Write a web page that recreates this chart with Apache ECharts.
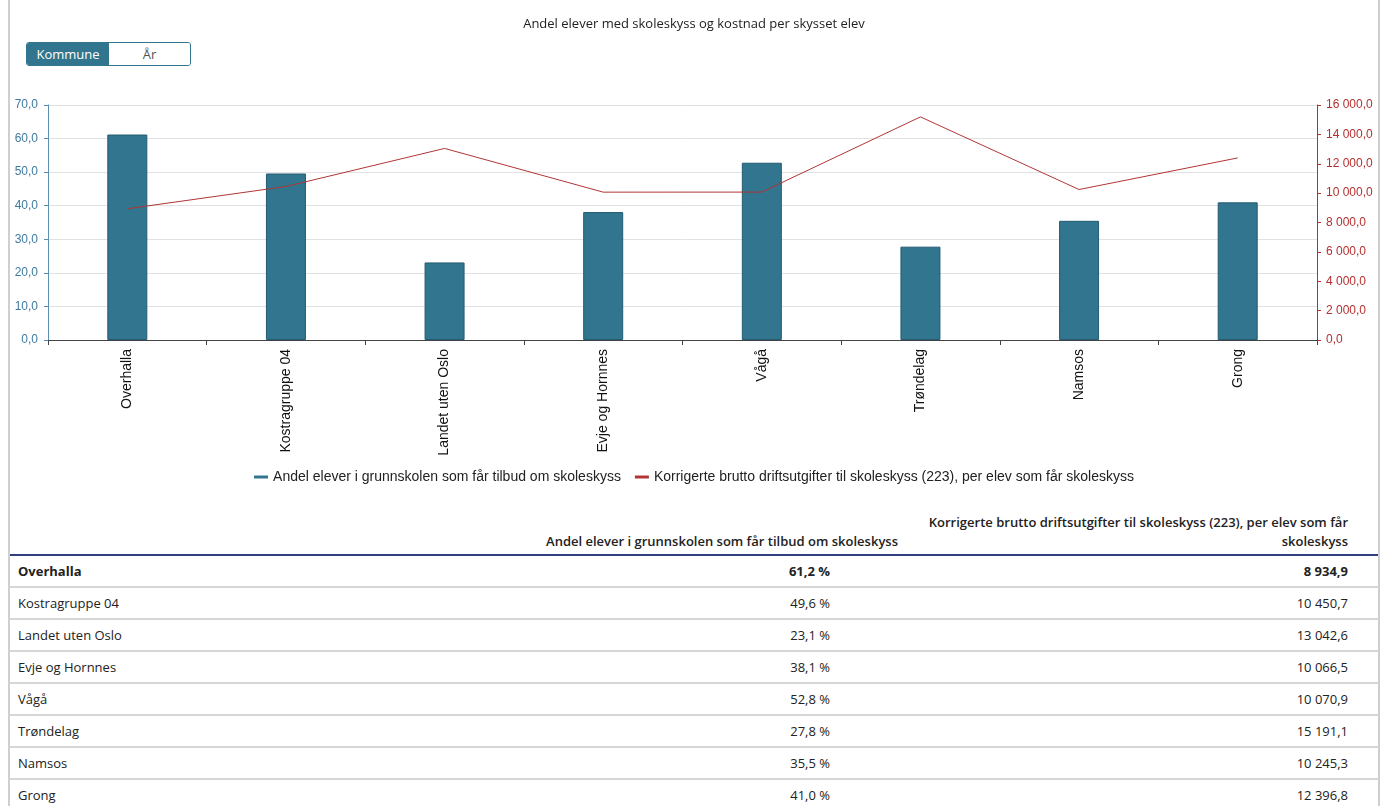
<!DOCTYPE html>
<html>
<head>
<meta charset="utf-8">
<script src="https://cdn.jsdelivr.net/npm/echarts@6/dist/echarts.min.js"></script>
<style>
  html, body { margin: 0; padding: 0; background: #fff; width: 1386px; height: 806px; overflow: hidden; }
  #frame { position: absolute; left: 8px; top: 0; width: 1368px; height: 806px; border-left: 2px solid #cfcfcf; border-right: 2px solid #cfcfcf; }
  #chart { position: absolute; left: 10px; top: 0; width: 1368px; height: 500px; }
  #toggle { position: absolute; left: 26px; top: 42px; width: 163px; height: 22px; border: 1px solid #31758f; border-radius: 3px; overflow: hidden; font-family: "Open Sans", sans-serif; font-size: 13px; display: flex; }
  #toggle div { height: 22px; line-height: 22px; text-align: center; }
  #toggle .on { width: 82px; background: #31758f; color: #fff; }
  #toggle .off { flex: 1; background: #fff; color: #555; }
  #tbl { position: absolute; left: 10px; top: 508px; width: 1368px; table-layout: fixed; border-collapse: collapse; font-family: "Open Sans", sans-serif; font-size: 13px; color: #222; }
  #tbl th { font-weight: 600; text-align: right; vertical-align: bottom; line-height: 19px; padding: 5px 10px 3px 10px; border-bottom: 2px solid #2f3f7f; }
  #tbl td { height: 30px; padding: 0 10px 0 8px; border-bottom: 2px solid #d6d6d6; line-height: 30px; }
  #tbl td.num2 { text-align: right; padding-right: 78px; }
  #tbl td.num3 { text-align: right; padding-right: 30px; }
  #tbl th.c3 { padding-right: 30px; }
  #tbl tr.bold td { font-weight: bold; }
</style>
</head>
<body>
<div id="frame"></div>
<div id="chart"></div>
<div id="toggle"><div class="on">Kommune</div><div class="off">År</div></div>
<table id="tbl"><colgroup><col style="width:350px"><col style="width:548px"><col style="width:470px"></colgroup><tbody id="tb"></tbody></table>
<script>
const categories = ["Overhalla", "Kostragruppe 04", "Landet uten Oslo", "Evje og Hornnes", "Vågå", "Trøndelag", "Namsos", "Grong"];
const andelValues = [61.2, 49.6, 23.1, 38.1, 52.8, 27.8, 35.5, 41.0];
const kostnadValues = [8934.9, 10450.7, 13042.6, 10066.5, 10070.9, 15191.1, 10245.3, 12396.8];
const seriesNames = ["Andel elever i grunnskolen som får tilbud om skoleskyss", "Korrigerte brutto driftsutgifter til skoleskyss (223), per elev som får skoleskyss"];
const chartTitle = "Andel elever med skoleskyss og kostnad per skysset elev";

function fmt(v) {
  const parts = v.toFixed(1).split(".");
  const intPart = parts[0].replace(/\B(?=(\d{3})+(?!\d))/g, " ");
  return intPart + "," + parts[1];
}

const chart = echarts.init(document.getElementById("chart"));
chart.setOption({
  animation: false,
  title: { text: chartTitle, left: "center", top: 13, textStyle: { fontFamily: "Open Sans", fontSize: 13, fontWeight: "normal", color: "#222" } },
  legend: {
    top: 465, left: "center", itemWidth: 14, itemHeight: 3, itemGap: 14,
    itemStyle: { borderWidth: 0 },
    textStyle: { fontFamily: "Arial, Liberation Sans", fontSize: 14, color: "#222" },
    data: [{ name: seriesNames[0], icon: "rect" }, { name: seriesNames[1], icon: "rect" }]
  },
  grid: { left: 38, right: 61, top: 105, height: 235 },
  xAxis: {
    type: "category", data: categories,
    axisLine: { lineStyle: { color: "#444" } },
    axisTick: { show: true, length: 5, lineStyle: { color: "#444" } },
    axisLabel: { rotate: 90, fontFamily: "Arial, Liberation Sans", fontSize: 14, color: "#111", margin: 9, padding: [0, 0, 0, 0] }
  },
  yAxis: [
    {
      type: "value", min: 0, max: 70, interval: 10, position: "left",
      axisLine: { show: true, lineStyle: { color: "#5a8fb2" } },
      axisTick: { show: true, length: 4, lineStyle: { color: "#5a8fb2" } },
      axisLabel: { formatter: fmt, fontFamily: "Arial, Liberation Sans", fontSize: 12, color: "#3f7aa0", margin: 10 },
      splitLine: { lineStyle: { color: "#e2e2e2" } }
    },
    {
      type: "value", min: 0, max: 16000, interval: 2000, position: "right",
      axisLine: { show: true, lineStyle: { color: "#b52f2f" } },
      axisTick: { show: true, length: 4, lineStyle: { color: "#b52f2f" } },
      axisLabel: { formatter: fmt, fontFamily: "Arial, Liberation Sans", fontSize: 12, color: "#b52f2f", margin: 9 },
      splitLine: { show: false }
    }
  ],
  series: [
    {
      name: seriesNames[0], type: "bar", yAxisIndex: 0, data: andelValues, barWidth: 40,
      itemStyle: { color: "#31758f", borderColor: "#235b72", borderWidth: 1 }
    },
    {
      name: seriesNames[1], type: "line", yAxisIndex: 1, data: kostnadValues,
      symbol: "none", lineStyle: { color: "#b03535", width: 1 }, itemStyle: { color: "#b03535" }
    }
  ]
});

const tb = document.getElementById("tb");
let html = '<tr><th style="text-align:left"></th><th>' + seriesNames[0] + '</th><th class="c3">Korrigerte brutto driftsutgifter til skoleskyss (223), per elev som får<br>skoleskyss</th></tr>';
categories.forEach((c, i) => {
  html += '<tr' + (i === 0 ? ' class="bold"' : '') + '><td>' + c + '</td><td class="num2">' + fmt(andelValues[i]) + ' %</td><td class="num3">' + fmt(kostnadValues[i]) + '</td></tr>';
});
tb.innerHTML = html;
</script>
</body>
</html>
